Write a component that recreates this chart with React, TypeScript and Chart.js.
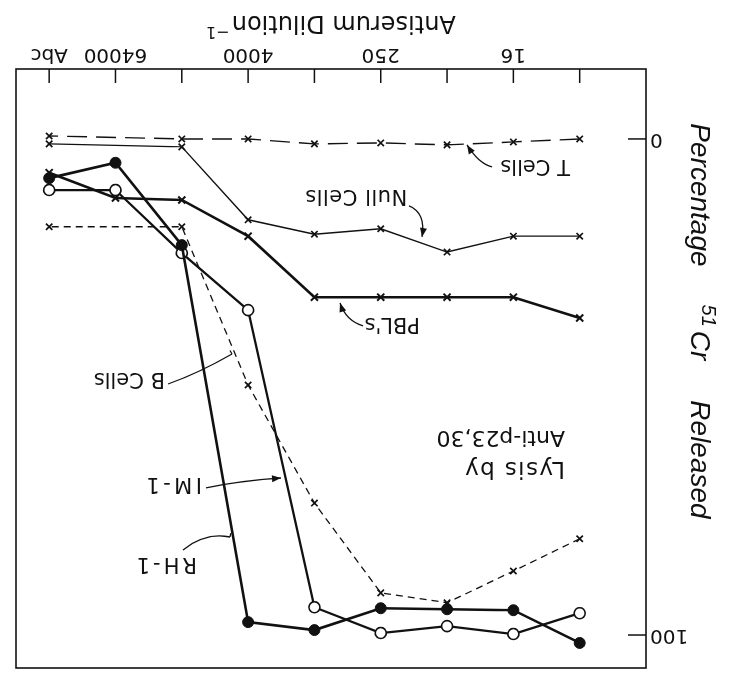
import { useEffect, useRef } from 'react';
import { Chart, registerables } from 'chart.js';

Chart.register(...registerables);

// Dilution categories (index positions on a linear axis), left to right in upright orientation
const dilutions = ['4', '16', '64', '250', '1000', '4000', '16000', '64000', 'Abc'];
const xTickLabels = ['', '16', '', '250', '', '4000', '', '64000', 'Abc'];
const yTickValues = [0, 100];

// Percentage 51Cr released (null = no measurement at that dilution)
const tCells = [0, 0.6, 1.2, 0.8, 1.0, 0, 0, null, -0.6];
const nullCells = [19.6, 19.6, 22.8, 18.1, 19.2, 16.3, 1.6, null, 1.0];
const pbls = [36.1, 31.9, 31.9, 31.9, 31.9, 19.6, 12.3, 11.9, 6.8];
const bCells = [80.6, 87.1, 93.5, 91.5, 73.4, 49.6, 17.7, null, 17.7];
const im1 = [95.6, 99.8, 98.2, 99.6, 94.4, 34.5, 23.0, 10.3, 10.3];
const rh1 = [101.6, 95.0, 94.8, 94.6, 99.0, 97.4, 21.4, 4.8, 7.9];

// Text annotations anchored in data space (x index, y percent)
const annotations = [
  { text: 'T Cells', x: 0.146, y: 4.23, size: 21, spacing: 0 },
  { text: 'Null Cells', x: 2.6, y: 10.28, size: 21, spacing: 0.5 },
  { text: "PBL's", x: 2.408, y: 36.09, size: 21, spacing: 0 },
  { text: 'B Cells', x: 6.253, y: 47.18, size: 21, spacing: 0 },
  { text: 'IM-1', x: 5.695, y: 68.35, size: 21, spacing: 3.5 },
  { text: 'RH-1', x: 5.771, y: 84.4, size: 21, spacing: 3 },
  { text: 'Lysis by', x: 0.221, y: 65.2, size: 23, spacing: 1.4 },
  { text: 'Anti-p23,30', x: 0.221, y: 58.9, size: 22, spacing: 0 },
];

const arrows = [
  { from: [1.322, 5.65], via: [1.518, 5.04], to: [1.699, 1.21], head: true },
  { from: [2.574, 13.51], via: [2.317, 14.92], to: [2.378, 19.76], head: true },
  { from: [3.267, 37.7], via: [3.524, 36.69], to: [3.614, 33.06], head: true },
  { from: [6.208, 49.4], via: [5.741, 47.18], to: [5.243, 43.35], head: false },
  { from: [5.635, 70.36], via: [5.137, 68.95], to: [4.504, 68.35], head: true },
  { from: [5.982, 82.86], via: [5.65, 79.23], to: [5.273, 80.24], head: false },
];

const INK = '#111';
const SANS = '"DejaVu Sans", sans-serif';

function pts(arr: (number | null)[]) {
  const out: { x: number; y: number }[] = [];
  arr.forEach((v, i) => {
    if (v !== null) out.push({ x: i, y: v });
  });
  return out;
}

const decorPlugin = {
  id: 'decor',
  afterDraw(chart: any) {
    const { ctx, chartArea: a } = chart;
    const xs = chart.scales.x;
    const ys = chart.scales.y;
    ctx.save();
    ctx.strokeStyle = INK;
    ctx.fillStyle = INK;
    ctx.lineWidth = 1.6;
    ctx.strokeRect(a.left, a.top, a.right - a.left, a.bottom - a.top);

    // inward tick marks
    ctx.lineWidth = 1.5;
    dilutions.forEach((_, i) => {
      const px = xs.getPixelForValue(i);
      ctx.beginPath();
      ctx.moveTo(px, a.bottom);
      ctx.lineTo(px, a.bottom - 14);
      ctx.stroke();
    });
    yTickValues.forEach((v) => {
      const py = ys.getPixelForValue(v);
      ctx.beginPath();
      ctx.moveTo(a.left, py);
      ctx.lineTo(a.left + 18, py);
      ctx.stroke();
    });

    // annotation texts
    ctx.textBaseline = 'alphabetic';
    ctx.textAlign = 'left';
    annotations.forEach((t) => {
      ctx.font = `${t.size}px ${SANS}`;
      (ctx as any).letterSpacing = `${t.spacing}px`;
      ctx.fillText(t.text, xs.getPixelForValue(t.x), ys.getPixelForValue(t.y));
    });
    (ctx as any).letterSpacing = '0px';

    // arrows
    ctx.lineWidth = 1.3;
    arrows.forEach((ar) => {
      const p0 = { x: xs.getPixelForValue(ar.from[0]), y: ys.getPixelForValue(ar.from[1]) };
      const c = { x: xs.getPixelForValue(ar.via[0]), y: ys.getPixelForValue(ar.via[1]) };
      const p1 = { x: xs.getPixelForValue(ar.to[0]), y: ys.getPixelForValue(ar.to[1]) };
      ctx.beginPath();
      ctx.moveTo(p0.x, p0.y);
      ctx.quadraticCurveTo(c.x, c.y, p1.x, p1.y);
      ctx.stroke();
      const ang = Math.atan2(p1.y - c.y, p1.x - c.x);
      if (ar.head) {
        const L = 9;
        const W = 3.5;
        ctx.beginPath();
        ctx.moveTo(p1.x, p1.y);
        ctx.lineTo(p1.x - L * Math.cos(ang) + W * Math.sin(ang), p1.y - L * Math.sin(ang) - W * Math.cos(ang));
        ctx.lineTo(p1.x - L * Math.cos(ang) - W * Math.sin(ang), p1.y - L * Math.sin(ang) + W * Math.cos(ang));
        ctx.closePath();
        ctx.fill();
      } else {
        ctx.beginPath();
        ctx.moveTo(p1.x, p1.y);
        ctx.lineTo(p1.x + 4 * Math.sin(ang), p1.y - 4 * Math.cos(ang));
        ctx.stroke();
      }
    });

    // x-axis title with superscript
    const main = 'Antiserum Dilution';
    const sup = '\u22121';
    ctx.font = `24px ${SANS}`;
    const w1 = ctx.measureText(main).width;
    ctx.font = `16px ${SANS}`;
    const w2 = ctx.measureText(sup).width;
    const cx = (a.left + a.right) / 2;
    const base = a.bottom + 53;
    const sx = cx - (w1 + 2 + w2) / 2;
    ctx.font = `24px ${SANS}`;
    ctx.fillText(main, sx, base);
    ctx.font = `16px ${SANS}`;
    ctx.fillText(sup, sx + w1 + 2, base - 11);

    // y-axis title, rotated, italic, with superscript 51
    const big = 'italic 28px "Liberation Sans", Arial, sans-serif';
    const small = 'italic 20px "Liberation Sans", Arial, sans-serif';
    const parts = [
      { t: 'Percentage', f: big, rise: 0, gap: 38 },
      { t: '51', f: small, rise: 11, gap: 4 },
      { t: 'Cr', f: big, rise: 0, gap: 40 },
      { t: 'Released', f: big, rise: 0, gap: 0 },
    ];
    let total = 0;
    parts.forEach((p) => {
      ctx.font = p.f;
      total += ctx.measureText(p.t).width + p.gap;
    });
    const cy = ys.getPixelForValue(36.7);
    ctx.translate(38, cy);
    ctx.rotate(-Math.PI / 2);
    let px = -total / 2;
    parts.forEach((p) => {
      ctx.font = p.f;
      ctx.fillText(p.t, px, -p.rise);
      px += ctx.measureText(p.t).width + p.gap;
    });
    ctx.restore();
  },
};

export default function App() {
  const ref = useRef<HTMLCanvasElement | null>(null);

  useEffect(() => {
    if (!ref.current) return;
    const cross = {
      pointStyle: 'crossRot',
      pointRadius: 4.5,
      pointBorderWidth: 1.7,
      pointBorderColor: INK,
      borderColor: INK,
    };
    const zeroPad = (s: any) => {
      s.paddingTop = 0;
      s.paddingBottom = 0;
      s.paddingLeft = 0;
      s.paddingRight = 0;
    };
    const chart = new Chart(ref.current, {
      type: 'line',
      data: {
        datasets: [
          {
            label: 'RH-1',
            data: pts(rh1),
            borderColor: INK,
            borderWidth: 2.6,
            pointStyle: 'circle',
            pointRadius: 5.5,
            pointBackgroundColor: INK,
            pointBorderColor: INK,
            pointBorderWidth: 1,
          },
          {
            label: 'IM-1',
            data: pts(im1),
            borderColor: INK,
            borderWidth: 2.3,
            pointStyle: 'circle',
            pointRadius: 5.5,
            pointBackgroundColor: '#fff',
            pointBorderColor: INK,
            pointBorderWidth: 1.6,
          },
          { label: "PBL's", data: pts(pbls), borderWidth: 2.6, ...cross, pointRadius: 5, pointBorderWidth: 2 },
          { label: 'Null Cells', data: pts(nullCells), borderWidth: 1.4, ...cross },
          { label: 'T Cells', data: pts(tCells), borderWidth: 1.4, borderDash: [20, 9], ...cross },
          { label: 'B Cells', data: pts(bCells), borderWidth: 1.3, borderDash: [7, 5], ...cross },
        ] as any,
      },
      options: {
        animation: false,
        responsive: false,
        devicePixelRatio: 1,
        events: [],
        layout: { padding: { top: 7, right: 16, bottom: 0, left: 0 }, autoPadding: false },
        elements: { line: { tension: 0, fill: false } },
        plugins: { legend: { display: false }, tooltip: { enabled: false } },
        scales: {
          x: {
            type: 'linear',
            min: -1,
            max: 8.5,
            afterBuildTicks: (s: any) => {
              s.ticks = dilutions.map((_, i) => ({ value: i }));
            },
            afterFit: (s: any) => {
              s.height = 69;
              zeroPad(s);
            },
            ticks: {
              autoSkip: false,
              maxRotation: 0,
              padding: 3,
              color: INK,
              font: { family: SANS, size: 20 },
              callback: (v: any) => xTickLabels[v as number] ?? '',
            },
            grid: { display: false, drawTicks: false },
            border: { display: false },
          },
          y: {
            type: 'linear',
            min: -14.1,
            max: 106.65,
            afterBuildTicks: (s: any) => {
              s.ticks = yTickValues.map((v) => ({ value: v }));
            },
            afterFit: (s: any) => {
              s.width = 83;
              zeroPad(s);
            },
            ticks: {
              padding: 4,
              color: INK,
              font: { family: SANS, size: 20 },
              callback: (v: any) => String(v),
            },
            grid: { display: false, drawTicks: false },
            border: { display: false },
          },
        },
      } as any,
      plugins: [decorPlugin],
    });
    return () => chart.destroy();
  }, []);

  return (
    <div
      style={{
        position: 'absolute',
        left: 0,
        top: 0,
        width: 729,
        height: 675,
        background: '#fff',
        transform: 'rotate(180deg)',
      }}
    >
      <canvas ref={ref} width={729} height={675} style={{ display: 'block', width: 729, height: 675 }} />
    </div>
  );
}
